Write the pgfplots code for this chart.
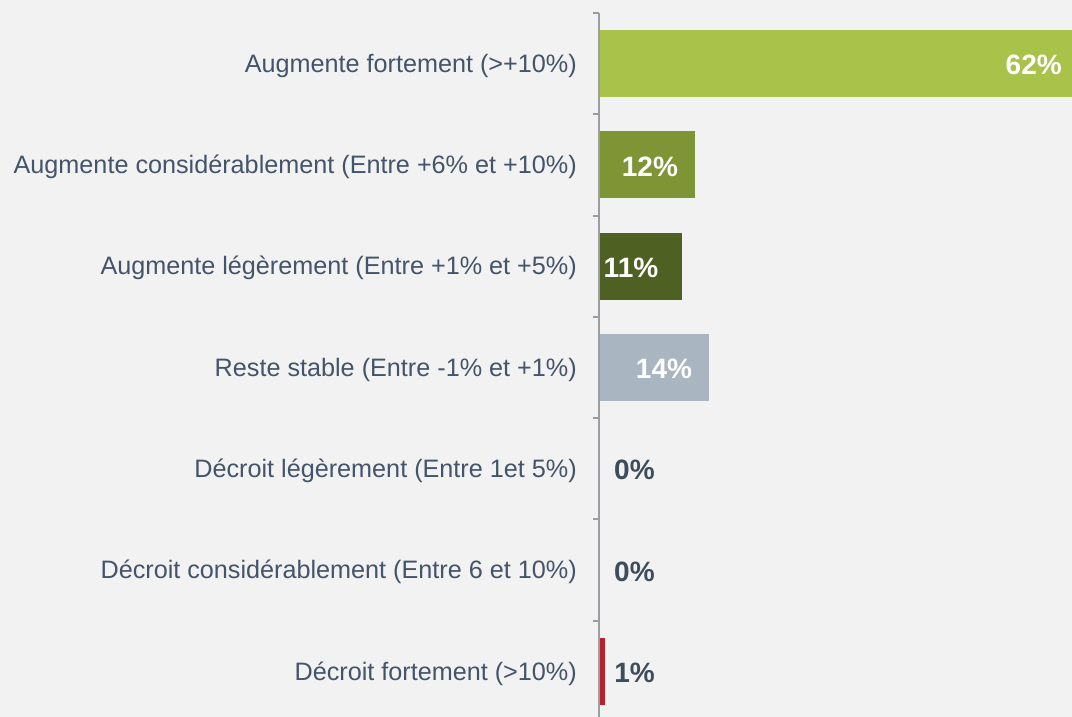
\documentclass[border=0pt]{standalone}
\usepackage{pgfplots}
\pgfplotsset{compat=1.18}
\usepackage{fontspec}
\setmainfont{Liberation Sans}
\definecolor{bg}{HTML}{F2F2F2}
\definecolor{axisc}{HTML}{9A9EA3}
\definecolor{labelc}{HTML}{44546A}
\definecolor{valc}{HTML}{3E4D5C}
\definecolor{c1}{HTML}{A9C24A}
\definecolor{c2}{HTML}{7F9535}
\definecolor{c3}{HTML}{4F6122}
\definecolor{c4}{HTML}{A9B5C1}
\definecolor{c7}{HTML}{B5232E}

\begin{document}
\begin{tikzpicture}
\useasboundingbox (-599pt,4pt) rectangle (473pt,721pt);
\fill[bg] (-599pt,4pt) rectangle (473pt,721pt);
\begin{axis}[
    at={(0,-1pt)}, anchor=south west,
    scale only axis,
    width=473pt, height=709pt,
    clip=false,
    xbar, bar width=67pt,
    xmin=0, xmax=60.64,
    ymin=-0.5, ymax=6.5,
    y dir=reverse,
    axis x line=none,
    axis y line=left,
    axis line style={-, line width=2.2pt, color=axisc},
    axis on top,
    ytick={0,...,6},
    yticklabels={
        Augmente fortement (>+10\%),
        Augmente considérablement (Entre +6\% et +10\%),
        Augmente légèrement (Entre +1\% et +5\%),
        Reste stable (Entre -1\% et +1\%),
        Décroit légèrement (Entre 1et 5\%),
        Décroit considérablement (Entre 6 et 10\%),
        Décroit fortement (>10\%)},
    major tick length=0pt,
    minor ytick={-0.5,0.5,...,6.5},
    minor tick length=6pt,
    tick align=outside,
    minor tick style={line width=2pt, color=axisc},
    yticklabel style={anchor=east, inner sep=0pt, xshift=-22pt, yshift=-2pt,
        font=\fontsize{25.2}{25}\selectfont, text=labelc},
    point meta=x,
    nodes near coords={\pgfmathprintnumber[fixed,precision=0,assume math mode=true]{\pgfplotspointmeta}\%},
    every node near coord/.append style={inner sep=0pt, yshift=-1.5pt,
        font=\bfseries\fontsize{28}{28}\selectfont},
]
\addplot[draw=none, fill=c1, bar shift=0pt,
    every node near coord/.append style={anchor=east, xshift=-17.5pt, text=white}]
    coordinates {(61.6,0)};
\addplot[draw=none, fill=c2, bar shift=0pt,
    every node near coord/.append style={anchor=center, xshift=-45pt, text=white}]
    coordinates {(12.3,1)};
\addplot[draw=none, fill=c3, bar shift=0pt,
    every node near coord/.append style={anchor=center, xshift=-50.7pt, text=white}]
    coordinates {(10.6,2)};
\addplot[draw=none, fill=c4, bar shift=0pt,
    every node near coord/.append style={anchor=center, xshift=-45pt, text=white}]
    coordinates {(14.1,3)};
\addplot[draw=none, fill=none, bar shift=0pt,
    every node near coord/.append style={anchor=west, xshift=15pt, text=valc}]
    coordinates {(0,4) (0,5)};
\addplot[draw=none, fill=c7, bar shift=0pt,
    every node near coord/.append style={anchor=west, xshift=9pt, text=valc}]
    coordinates {(0.8,6)};
\end{axis}
\end{tikzpicture}
\end{document}
